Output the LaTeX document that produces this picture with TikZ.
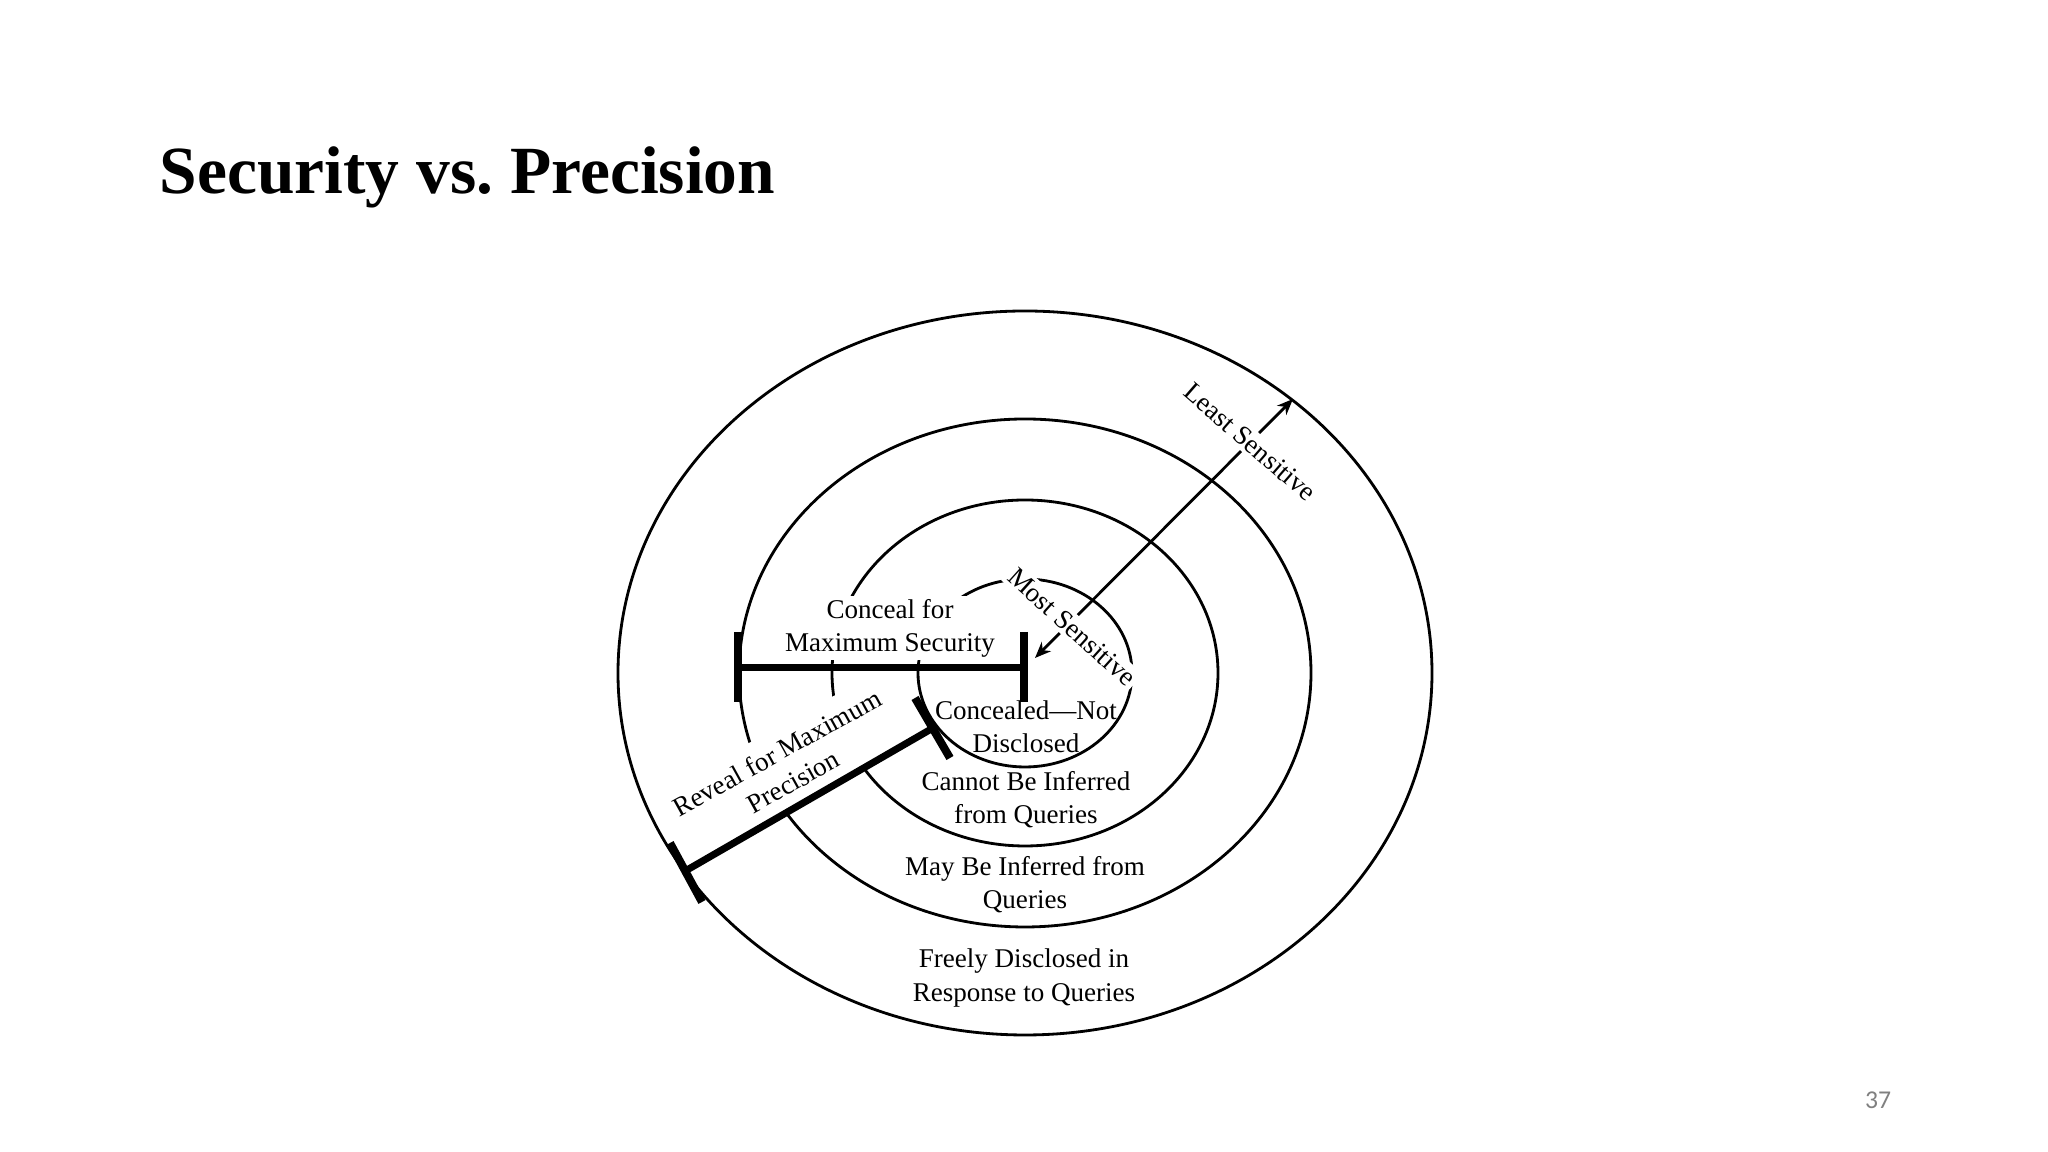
\documentclass[tikz,border=0pt]{standalone}
\usepackage{fontspec}
\setmainfont{Liberation Serif}
\newfontfamily\numfont{Carlito}
\usetikzlibrary{arrows.meta}

\begin{document}
\begin{tikzpicture}[
		ring/.style={line width=0.8pt},
		zone/.style={align=center, font=\fontsize{7.7}{9.4}\selectfont, inner sep=1pt},
		blank/.style={zone, fill=white},
		thickbar/.style={line width=2pt},
		endtick/.style={line width=2.3pt},
		tip/.style={line width=0.8pt, {Stealth[length=1.6mm,width=1.3mm,inset=0.5mm]}-{Stealth[length=1.6mm,width=1.3mm,inset=0.5mm]}}
	]
				\useasboundingbox (0,0) rectangle (20.48,11.52);
				
				\node[anchor=base west, inner sep=0pt, font=\fontsize{19.2}{23}\selectfont\bfseries] (title) at (1.59,9.58) {Security vs.\ Precision};
				\node[text=gray, font=\numfont\fontsize{7.3}{9}\selectfont] (pagenum) at (18.78,0.52) {37};
				
				\draw[ring] (10.25,4.79) ellipse (4.07 and 3.62);
				\draw[ring] (10.25,4.79) ellipse (2.86 and 2.54);
				\draw[ring] (10.25,4.79) ellipse (1.93 and 1.73);
				\draw[ring] (10.25,4.79) ellipse (1.07 and 0.94);
				
				\coordinate (most) at (10.35,4.94);
				\coordinate (least) at (12.93,7.53);
				\draw[tip] (most) -- (least);
				
				\node[blank] (conceal) at (8.90,5.24) {Conceal for\\Maximum Security};
				\node[blank, rotate=29, inner ysep=3.5pt] (reveal) at (7.85,3.85) {Reveal for Maximum\\Precision};
				\node[blank, rotate=-42] (mostlbl) at (10.72,5.25) {Most Sensitive};
				\node[blank, rotate=-41] (leastlbl) at (12.50,7.10) {Least Sensitive};
				
				\node[zone] (hidden) at (10.26,4.25) {Concealed---Not\\Disclosed};
				\node[zone] (noinfer) at (10.26,3.52) {Cannot Be Inferred\\from Queries};
				\node[zone] (mayinfer) at (10.25,2.67) {May Be Inferred from\\Queries};
				\node[zone] (free) at (10.24,1.74) {Freely Disclosed in\\Response to Queries};
				
				\coordinate (secA) at (7.38,4.84);
				\coordinate (secB) at (10.24,4.84);
				\draw[thickbar] (secA) -- (secB);
				\draw[endtick] (secA) ++(0,0.36) -- ++(0,-0.70);
				\draw[endtick] (secB) ++(0,0.36) -- ++(0,-0.70);
				
				\coordinate (revA) at (9.33,4.24);
				\coordinate (revB) at (6.87,2.82);
				\draw[thickbar] (revA) -- (revB);
				\draw[endtick] (revA) ++(-0.18,0.30) -- ++(0.35,-0.60);
				\draw[endtick] (revB) ++(-0.17,0.27) -- ++(0.32,-0.59);
\end{tikzpicture}
\end{document}
